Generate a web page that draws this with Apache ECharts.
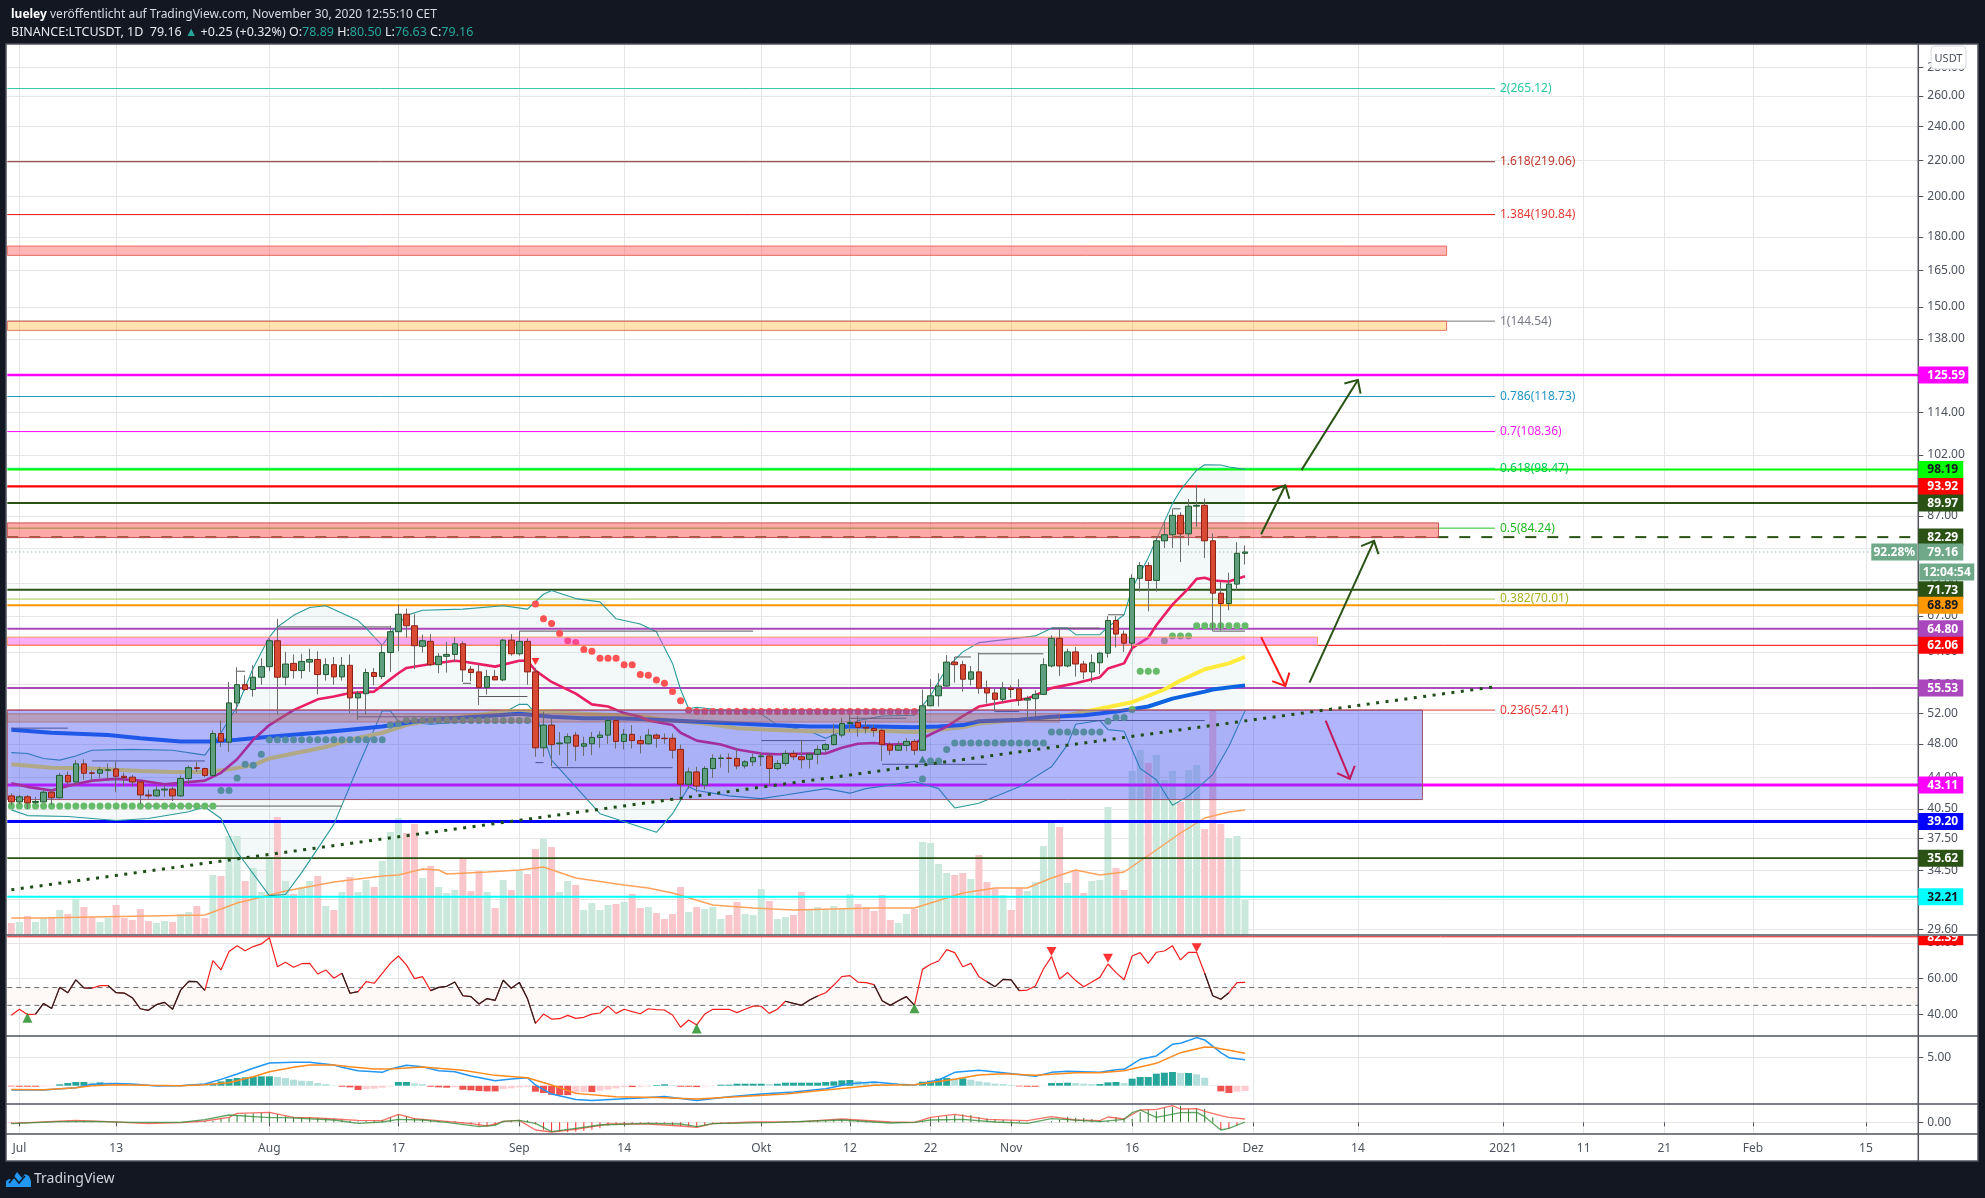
<!DOCTYPE html>
<html><head><meta charset="utf-8"><title>LTCUSDT</title>
<script src="https://cdn.jsdelivr.net/npm/echarts@6/dist/echarts.min.js"></script>
<style>html,body{margin:0;padding:0;background:#131722}#c{width:1985px;height:1198px}</style></head>
<body><div id="c"></div>
<script>
// ---------- DATA ----------
const startDay = '2020-06-30', dayCount = 237;
const tickLabels = {'2020-07-01':'Jul','2020-07-13':'13','2020-08-01':'Aug','2020-08-17':'17','2020-09-01':'Sep','2020-09-14':'14','2020-10-01':'Okt','2020-10-12':'12','2020-10-22':'22','2020-11-01':'Nov','2020-11-16':'16','2020-12-01':'Dez','2020-12-14':'14','2021-01-01':'2021','2021-01-11':'11','2021-01-21':'21','2021-02-01':'Feb','2021-02-15':'15'};
const priceTicks = [280,260,240,220,200,180,165,150,138,126,114,102,94,87,80,73,67,61,56,52,48,44,40.5,37.5,34.5,32,29.6];
// [open, close, low, high]
const ohlc = [
[41.9,41.25,40.9,42.2],[41.25,41.8,41.0,42.0],[41.8,41.15,40.5,42.0],[41.2,41.3,41.0,41.8],[41.25,42.3,41.2,42.6],[42.3,41.7,40.9,42.6],[41.7,44.2,41.6,44.5],[44.2,43.45,43.2,44.65],[43.45,45.55,43.2,46.0],[45.55,44.45,43.7,46.1],
[44.5,44.45,43.6,44.75],[44.45,44.85,43.9,45.15],[44.8,44.85,43.8,45.6],[44.95,44.1,42.3,45.8],[44.1,43.95,43.0,44.5],[44.0,43.45,42.9,44.25],[43.45,42.0,41.0,43.55],[42.0,41.9,41.6,42.6],[41.9,42.55,41.8,43.0],[42.55,42.65,41.8,43.0],
[42.65,41.9,41.35,42.95],[41.9,43.85,41.8,44.2],[43.85,45.1,43.2,45.35],[45.1,45.0,44.6,45.8],[45.0,44.2,44.0,45.1],[44.2,49.3,44.1,49.7],[49.3,48.3,47.6,51.0],[48.2,53.4,47.0,56.4],[53.4,56.0,52.0,58.6],[56.0,55.3,55.1,57.4],
[55.3,57.1,54.3,58.9],[57.1,58.7,56.0,60.0],[58.7,62.8,58.0,63.2],[62.8,57.1,51.8,66.5],[57.1,59.1,55.9,61.0],[59.2,58.1,56.9,60.6],[58.1,59.5,56.9,60.7],[59.4,59.8,57.9,61.5],[59.8,57.5,54.6,61.1],[57.5,59.0,56.6,60.0],
[59.0,57.15,56.0,60.2],[57.15,58.9,56.6,60.2],[58.9,54.1,52.0,60.6],[54.1,54.7,51.1,55.1],[54.7,57.8,51.8,58.4],[57.8,57.2,55.9,58.5],[57.2,60.9,56.8,62.2],[60.9,64.3,57.9,65.3],[64.3,67.3,61.1,69.0],[67.3,65.3,63.3,68.3],
[65.3,62.0,58.3,67.3],[61.9,62.8,60.9,63.8],[62.7,59.0,58.8,63.9],[59.0,60.3,57.7,60.8],[60.3,60.6,57.8,62.6],[60.6,62.3,59.5,63.4],[62.3,58.2,56.4,62.7],[58.3,57.8,56.5,58.8],[57.9,55.6,53.1,59.0],[55.6,57.2,54.6,58.2],
[57.2,56.7,56.7,58.2],[56.7,62.9,56.5,63.1],[62.9,60.7,60.4,63.9],[60.7,62.7,60.4,64.4],[62.7,57.9,56.0,63.2],[57.9,47.5,46.4,58.5],[47.5,50.4,46.4,52.2],[50.4,47.9,45.3,51.3],[48.0,48.1,46.6,49.5],[48.1,48.9,45.3,49.3],
[49.1,47.7,45.9,49.5],[47.7,48.0,46.5,48.9],[48.0,48.8,46.6,49.5],[48.8,49.1,47.5,49.6],[49.1,51.0,48.0,51.3],[51.0,48.3,47.4,51.3],[48.3,49.2,47.3,49.9],[49.2,48.4,47.4,50.4],[48.4,48.0,46.8,49.0],[48.0,49.1,47.9,49.9],
[49.1,48.7,47.5,49.3],[48.7,48.65,48.0,49.3],[48.7,47.2,46.2,49.3],[47.3,43.2,41.9,47.9],[43.2,44.6,42.7,45.1],[44.6,43.0,42.3,45.2],[43.1,45.0,42.6,45.3],[45.0,46.2,43.9,46.7],[46.2,46.25,45.1,46.7],[46.25,46.2,44.5,46.8],
[46.2,45.3,44.9,47.4],[45.3,45.8,45.0,46.0],[45.8,46.3,45.3,46.8],[46.4,46.5,45.3,46.9],[46.5,45.0,43.1,46.8],[45.0,45.6,44.8,46.0],[45.6,46.8,45.3,47.2],[46.8,46.4,46.0,47.2],[46.4,46.05,45.0,48.5],[46.1,46.7,45.0,46.95],
[46.7,47.3,45.5,47.8],[47.3,47.9,46.9,48.1],[47.9,49.1,47.8,50.6],[49.1,50.6,48.8,51.4],[50.6,50.75,49.5,51.7],[50.75,50.1,48.9,51.6],[50.1,50.0,49.3,51.0],[49.95,49.7,48.9,50.5],[49.7,47.9,45.9,50.0],[47.9,47.2,46.6,48.2],
[47.2,47.8,47.1,48.3],[47.8,48.3,47.1,48.7],[48.3,47.2,46.6,48.6],[47.2,53.0,47.1,55.3],[53.0,54.4,53.0,56.8],[54.4,55.8,52.9,57.7],[55.8,59.4,55.7,60.5],[59.4,59.0,56.3,60.2],[59.0,56.8,55.0,59.6],[56.8,57.9,55.9,58.8],
[57.9,55.5,54.7,60.9],[55.5,54.8,53.3,56.6],[54.8,53.9,52.2,55.5],[53.9,55.5,53.5,56.4],[55.5,55.3,54.1,55.9],[55.4,53.8,53.0,56.8],[53.8,54.0,51.0,54.4],[54.0,54.6,51.5,55.2],[54.6,59.0,54.5,60.0],[58.8,63.2,58.6,63.7],
[63.2,58.8,57.3,64.8],[58.8,61.0,58.6,61.5],[61.0,59.1,57.2,61.8],[59.1,57.9,56.8,59.6],[57.9,59.3,56.3,60.6],[59.3,60.8,57.6,61.0],[60.8,66.2,60.1,67.0],[66.2,63.9,61.7,67.0],[63.9,62.4,61.0,64.5],[62.4,73.9,61.0,74.7],
[73.9,76.4,71.4,77.1],[76.4,73.5,67.8,77.1],[73.5,81.5,71.4,82.4],[81.5,82.8,80.0,85.7],[82.8,87.1,80.0,88.5],[87.1,83.0,77.1,87.8],[83.0,89.2,80.5,90.9],[89.2,89.4,84.5,94.3],[89.4,81.5,77.9,91.0],[81.5,71.1,64.4,83.1],
[71.1,69.2,64.5,73.2],[69.2,72.8,68.0,75.0],[72.8,78.89,71.6,81.2],[78.89,79.16,76.63,80.5]];
const volume = [
12,13,19,13,17,17,25,21,36,28,18,13,17,30,17,15,26,14,12,14,
13,21,23,29,17,60,59,99,99,54,67,43,78,118,54,41,48,54,59,29,
25,43,58,43,55,48,74,103,117,102,111,57,69,48,42,45,77,44,64,43,
27,55,45,64,61,86,96,88,43,54,50,25,32,25,30,31,33,41,27,28,
22,16,21,48,23,28,26,28,16,20,33,21,20,46,34,16,18,20,43,26,
28,26,29,27,41,31,28,24,40,15,12,21,26,93,92,71,62,60,62,56,
80,53,46,40,25,47,44,53,89,113,108,52,65,42,54,55,128,67,45,164,
185,172,180,155,164,133,165,170,106,224,111,97,99,35];
const volumeAvg = [[0,17],[4,17],[10,18],[24,20],[28,32],[32,40],[34,44],[40,53],[46,59],[48,60],[51,66],[53,65],[54,61],[59,63],[63,65],[66,68],[70,57],[76,50],[79,47],[82,42],[87,30],[92,27],[97,25],[107,27],[112,27],[118,42],[122,47],[126,47],[129,57],[132,65],[135,60],[138,63],[142,85],[145,102],[148,117],[151,123],[153,125]];
const emaFast = [[0,43.3],[2,42.9],[5,42.5],[7,43],[10,43.6],[13,43.8],[16,43.6],[19,43.2],[24,43.6],[26,44.5],[28,46.1],[30,48.5],[32,50.4],[35,52.4],[38,53.9],[40,54.3],[42,54.8],[45,55],[46,55.9],[48,57.7],[49,58.5],[52,59.1],[55,59.6],[56,59.5],[60,58.7],[63,59.6],[64,59.6],[65,58.1],[67,56.4],[70,54.7],[72,53.2],[74,52.9],[76,52],[78,51.5],[79,51],[82,50.4],[83,49.4],[85,48.4],[88,47.9],[90,47.3],[93,46.8],[95,46.7],[99,46.8],[101,46.8],[103,47.5],[105,48],[107,48.1],[109,47.9],[112,48],[113,48.7],[116,50.2],[118,51.6],[120,52.9],[124,53.7],[126,54],[127,54.5],[129,55.5],[132,56.2],[135,57.1],[136,58.4],[138,59.2],[139,61.6],[141,63.3],[142,65.4],[144,69],[146,72],[147,73.8],[148,74],[149,73.5],[151,73.3],[153,74.3]];
const emaMid = [[0,45.5],[5,45.1],[10,45],[16,44.7],[20,44.6],[24,44.6],[27,44.9],[30,45.4],[32,46.2],[35,46.8],[39,47.6],[42,48.5],[46,49.4],[49,50.4],[52,51],[56,51.5],[61,52.2],[65,52.3],[67,52.2],[71,51.9],[75,51.7],[78,51.5],[82,51],[86,50.6],[90,50],[94,49.8],[99,49.6],[103,49.6],[107,49.7],[112,49.5],[115,49.8],[118,50.1],[120,50.6],[125,51.1],[130,51.5],[135,52.6],[139,53.5],[143,55.3],[145,56.6],[148,58.3],[151,59.2],[153,60.2]];
const emaSlow = [[0,49.8],[5,49.4],[12,49.1],[16,48.7],[21,48.3],[25,48.3],[28,48.5],[32,48.9],[39,49.5],[42,49.8],[46,50.2],[51,51],[55,51.3],[59,51.6],[63,51.9],[67,51.5],[71,51.3],[75,51.3],[78,51.2],[82,51],[86,50.8],[90,50.6],[94,50.4],[99,50.2],[103,50.2],[107,50.2],[112,50.1],[115,50.2],[118,50.4],[120,50.9],[125,51.1],[129,51.5],[133,51.7],[137,52.2],[141,52.9],[144,54],[148,55],[149,55.3],[153,55.9]];
const bollUpper = [[0,46.9],[2,46.8],[4,46.2],[6,46],[8,46.5],[10,47.2],[15,47.3],[20,47.2],[24,46.6],[26,49.4],[28,52.9],[30,58.5],[32,63.4],[33,65.1],[35,67.1],[37,68.5],[39,68.8],[43,66.2],[44,64.9],[46,62],[47,64],[49,67.1],[51,68],[56,68.2],[61,68.8],[64,68.2],[66,70.9],[67,71.6],[70,70.1],[73,69.5],[75,66.5],[78,65.6],[80,64.3],[82,59.2],[83,55.3],[84,52.6],[85,52.8],[88,52.4],[90,52.4],[93,51.9],[95,50.4],[99,49.6],[101,48.7],[103,49.6],[105,51],[108,51.6],[112,51.7],[114,54.4],[116,58.5],[118,61],[120,62.5],[124,63.1],[127,63.6],[129,64.9],[131,64.9],[132,63.8],[135,63.8],[136,65.1],[138,67.2],[139,72],[141,78],[144,89.8],[145,93],[147,98],[148,99.4],[150,99.3],[151,98.8],[153,98.2]];
const bollLower = [[0,40.4],[2,39.8],[7,39.7],[13,39.3],[17,39.5],[22,40.2],[24,40.7],[26,39.5],[28,36.2],[32,32.3],[34,32.4],[36,34.3],[40,38.9],[43,45.2],[46,52.3],[47,52.3],[48,50.9],[52,50.5],[57,50.9],[61,52],[63,53.2],[64,53.2],[65,52],[67,46],[73,40],[80,38.1],[82,40],[84,42.9],[85,42.5],[89,41.9],[93,41.6],[96,42],[101,42.7],[104,42.2],[106,42.7],[112,43.5],[115,42.7],[116,41.6],[117,40.6],[120,41.1],[125,42.9],[129,45.2],[131,47.9],[132,50.5],[135,51],[136,49.8],[138,49.6],[140,45],[142,43.7],[144,40.9],[146,41.9],[149,44.3],[151,47.7],[153,52.3]];
// stop-and-reverse dots: [day index, price]
const sarGreen = [[0,40.8],[1,40.8],[2,40.8],[3,40.8],[4,40.8],[5,40.8],[6,40.8],[7,40.8],[8,40.8],[9,40.8],[10,40.8],[11,40.8],[12,40.8],[13,40.8],[14,40.8],[15,40.8],[16,40.8],[17,40.8],[18,40.8],[19,40.8],[20,40.8],[21,40.8],[22,40.8],[23,40.8],[24,40.8],[25,40.8],[26,42.5],[27,42.5],[28,43.9],[29,45.5],[30,45.4],[31,46.7],[32,48.5],[33,48.5],[34,48.5],[35,48.5],[36,48.5],[37,48.5],[38,48.5],[39,48.5],[40,48.5],[41,48.5],[42,48.5],[43,48.5],[44,48.5],[45,48.5],[46,48.5],[47,50.4],[48,50.6],[49,51],[50,51],[51,51],[52,51],[53,51],[54,51],[55,51],[56,51],[57,51],[58,51],[59,51],[60,51],[61,51],[62,51],[63,51],[64,51],[113,43.8],[114,45.9],[115,45.9],[116,47.3],[117,48.1],[118,48.1],[119,48.1],[120,48.1],[121,48.1],[122,48.1],[123,48.1],[124,48.1],[125,48.1],[126,48.1],[127,48.1],[128,48.1],[129,49.5],[130,49.5],[131,49.5],[132,49.5],[133,49.5],[134,49.5],[135,49.5],[136,50.9],[137,51.4],[138,51.4],[139,52.5],[140,58],[141,58],[142,58],[143,62.8],[144,63.6],[145,63.6],[146,63.6],[147,65.3],[148,65.3],[149,65.3],[150,65.3],[151,65.3],[152,65.3],[153,65.3]];
const sarRed = [[65,69.1],[66,66.5],[67,65.7],[68,64],[69,62.8],[70,62.5],[71,61.4],[72,61.1],[73,60],[74,60],[75,60],[76,59],[77,59],[78,57.5],[79,57.4],[80,56.7],[81,56.2],[82,55],[83,53.7],[84,52.4],[85,52.2],[86,52.2],[87,52.2],[88,52.2],[89,52.2],[90,52.2],[91,52.2],[92,52.2],[93,52.2],[94,52.2],[95,52.2],[96,52.2],[97,52.2],[98,52.2],[99,52.2],[100,52.2],[101,52.2],[102,52.2],[103,52.2],[104,52.2],[105,52.2],[106,52.2],[107,52.2],[108,52.2],[109,52.2],[110,52.2],[111,52.2],[112,52.2],[113,52.2]];
const priceSignalDown = [[65,59.5]];
const priceSignalUp = [[113,46.1]];
// stepped support / resistance: [from day, to day, price]
const stepLevels = [[0,7,50],[10,24,45.9],[16,41,40.8],[28,29,58],[33,47,65.1],[43,55,51.5],[56,57,56.2],[58,64,54.3],[63,92,64.4],[65,66,45.7],[67,82,45.1],[93,101,48.4],[104,111,51.3],[108,121,45.5],[117,119,60.2],[120,128,60.7],[122,125,52.2],[126,148,51],[129,135,64.9],[136,138,67.2],[144,145,88.6],[149,153,64.4]];
// horizontal levels
const fibValues = [265.12,219.06,190.84,144.54,118.73,108.36,98.47,84.24,70.01,52.41];
const fibRatios = ['2','1.618','1.384','1','0.786','0.7','0.618','0.5','0.382','0.236'];
const fibEndDay = 184, fibLabelDay = 184;
const priceLevels = [125.59,98.19,93.92,89.97,82.29,71.73,68.89,64.80,62.06,55.53,43.11,39.20,35.62,32.21];
// zones: [top, bottom, end day]
const zoneTops = [175.8,144.5,85.4,63.4,52.41,51.9];
const zoneBottoms = [171.6,141.1,82.2,62.06,41.5,50.8];
const zoneEnds = [178,178,177,162,175,130];
// arrows: [from day, from price, to day, to price]
const arrowsUp = [[161,56.3,169,81.5],[155,82.9,158,94.2],[160,98,167,124]];
const arrowsDown = [[155,63.4,158,55.8]];
const arrowsDown2 = [[163,51,166,43.8]];
const trendLine = [[0,32.8],[184,55.7]];
const lastPrice = 79.16, lastPct = '92.28%', countdown = '12:04:54';
// RSI
const rsi = [39.4,42.8,39.8,40.1,46.1,43.3,55.1,52.1,59.3,54.8,54.6,56.1,56.1,52.1,51.9,49.3,43.1,42.2,45.4,46.7,42.8,53.6,58.5,58.3,53.4,70.1,64.9,75.2,78.5,75.7,78,79.5,83,66.7,69.2,66.4,68.4,68.6,62.6,64.9,60.2,63,51.8,52.7,58.3,57.4,63,68.6,72.7,67.7,60,61.1,53.3,55.1,55.7,58.1,50.4,49.9,45.8,48.8,47.8,59.1,54.6,57.9,48.9,34.9,40.1,37.3,37.5,39.4,37.7,38.3,40.1,40.7,44.6,40.5,42.8,41.5,40.3,43.1,42.6,42.4,39.6,32.7,36.8,34,40.1,42.8,42.8,42.8,40.9,42.8,44.6,44.5,40.5,42.8,47.3,46.1,45,48,50.3,52.1,56.4,61.1,61.7,58.1,57.8,56.6,47.6,45,47.6,49.9,45,65.2,68.1,69.9,76.3,74.6,66.7,68.6,61.1,58.3,55.5,59.6,59.3,53.3,53.6,55.9,65.4,72.4,59.8,63.4,58.9,55.5,58.1,60.7,68.2,63.4,59.4,72.7,74.6,68.6,74.8,75.5,78.4,70.5,74.8,74.8,63,50.4,48.4,52.1,57.8,57.9];
const rsiDarkRanges = [[3,6],[7,10],[12,16],[17,20],[21,22],[23,24],[41,43],[52,54],[55,65],[96,100],[107,109],[110,112],[121,125],[148,151]];
const rsiTicks = [80,60,40], rsiBand = [55,45], rsiLevel = 83.5, rsiLevelLabel = '82.39';
const rsiSignalUp = [[2,38],[85,32],[112,43.4]];
const rsiSignalDown = [[129,75.2],[136,71.5],[147,77.4]];
// MACD
const macdLine = [[0,-0.76],[4,-0.76],[8,-0.35],[10,0.24],[13,0.41],[15,0.29],[18,-0.06],[21,0],[24,0.29],[26,1.12],[28,2.06],[30,3.06],[32,4],[35,4.12],[37,4.12],[40,3.65],[41,3.24],[43,2.65],[46,2.35],[47,2.94],[49,3.59],[51,3.35],[53,2.65],[55,2.47],[57,1.71],[60,0.88],[62,1.18],[64,1.41],[65,0.12],[67,-1.47],[70,-2.41],[72,-2.59],[76,-2.29],[78,-2.18],[81,-1.88],[83,-2.24],[85,-2.59],[89,-1.94],[93,-1.47],[97,-1.12],[101,-0.53],[104,0.35],[107,0.65],[110,0.24],[112,0.12],[115,1],[117,2.35],[120,2.71],[123,2.29],[127,1.65],[129,2.35],[131,2.53],[135,2.35],[137,2.82],[138,2.88],[140,4.65],[142,5.24],[144,7.29],[145,7.47],[147,8.47],[148,8.06],[150,5.82],[151,4.94],[153,4.59]];
const macdSignal = [[0,-0.65],[4,-0.71],[8,-0.35],[10,0],[13,0.18],[17,0.06],[21,0],[24,0.18],[27,0.53],[30,1.59],[32,2.47],[35,3.24],[37,3.65],[40,3.65],[42,3.35],[45,2.94],[47,2.94],[51,3.29],[56,2.71],[60,1.82],[64,1.41],[67,0.12],[70,-1.35],[75,-1.94],[80,-2.06],[85,-2.35],[90,-1.94],[96,-1.47],[101,-0.76],[104,-0.35],[107,0.06],[112,0.18],[117,1.12],[120,1.88],[123,2.12],[127,1.82],[132,2.29],[135,2.29],[138,2.65],[142,3.94],[145,5.82],[148,6.82],[149,6.76],[153,5.71]];
const macdHist = [
-.12,-.18,-.18,-.18,-.12,-.06,.24,.47,.65,.65,
.53,.59,.53,.29,.18,.12,.06,.06,.06,.06,
.06,.12,.18,.29,.24,.41,.76,1.18,1.35,1.47,
1.59,1.65,1.65,1.53,1.35,1.06,.88,.82,.47,.29,
.06,-.18,-.29,-.76,-.59,-.53,-.35,-.12,.65,.65,
.41,.29,-.18,-.29,-.35,-.29,-.71,-.82,-.94,-1,
-1,-.59,-.47,-.29,-.24,-1.06,-1.29,-1.59,-1.65,-1.65,
-1.29,-1.12,-1.12,-.88,-.71,-.47,-.24,-.24,-.18,-.12,
.12,.24,.12,-.18,-.18,-.24,-.12,-.06,.18,.18,
.35,.35,.35,.35,.29,.35,.53,.53,.53,.53,
.53,.65,.76,.94,1,.82,.65,.47,.29,.18,
.06,.12,.06,.71,.88,1.24,1.35,1.29,1.29,1.06,
.76,.59,.35,.29,.12,-.12,-.18,-.18,-.06,.47,
.47,.53,.47,.35,.29,.29,.59,.65,.47,1.24,
1.53,1.53,2.12,2.29,2.41,2.24,2.24,2,1.41,.06,
-1,-1.29,-1.06,-.94];
const macdTicks = [5];
// lower oscillator
const oscUpper = [[0,-3],[8,6],[12,2],[17,-4],[21,-1],[24,4],[27,15],[28,27],[32,30],[35,15],[37,14],[40,10],[43,6],[46,5],[48,24],[50,11],[54,3],[57,-4],[59,-11],[60,-5],[61,3],[63,6],[65,-23],[67,-29],[70,-21],[74,-5],[79,-5],[83,-11],[85,-15],[87,-4],[92,1],[98,2],[103,10],[109,1],[112,0],[114,15],[117,24],[121,9],[126,5],[129,17],[132,7],[135,5],[136,16],[138,10],[140,37],[142,39],[144,50],[145,40],[147,41],[148,33],[150,20],[151,15],[153,10]];
const oscLower = [[0,-4],[6,2],[10,3],[15,0],[21,0],[24,8],[27,22],[32,14],[34,14],[40,7],[43,-3],[46,1],[48,9],[51,7],[54,0],[58,-13],[60,-9],[61,3],[63,6],[65,-3],[67,-28],[70,-18],[73,-8],[79,-3],[83,-5],[85,-13],[87,-4],[95,0],[103,7],[109,-2],[112,0],[114,7],[118,9],[122,1],[126,-3],[129,11],[135,2],[138,9],[139,29],[140,37],[142,15],[145,29],[147,30],[148,17],[150,-23],[151,-18],[153,1]];
const oscBars = [
-2,-2,-2,-1,0,1,2,3,3,3,3,2,2,1,1,0,-1,-2,-2,-1,
-1,0,1,3,4,5,12,14,22,26,27,28,30,24,18,17,16,15,14,13,
11,9,5,3,4,5,8,14,24,20,12,10,6,4,3,3,-3,-6,-10,-10,
-9,1,4,5,6,-6,-22,-26,-28,-30,-28,-25,-22,-18,-10,-8,-6,-4,-5,-3,
-2,-3,-8,-11,-12,-14,-10,-3,-2,-2,-1,0,0,1,0,1,2,2,3,4,
6,7,8,9,9,7,5,3,1,-1,-2,-2,0,5,12,15,20,22,24,22,
16,12,9,8,6,4,2,1,0,3,8,17,14,13,10,6,5,15,12,10,
30,37,33,43,46,50,40,42,41,15,-23,-20,-10,0];
const oscTicks = [0];

// ---------- STYLES ----------
const FONT = '"Noto Sans", "Open Sans", sans-serif';
const BG = '#131722', GRID = '#e6e6e6', TXT = '#4c525e', SEP = '#50535e';
const L = 7.3, R = 1918.3;
const fibColors = ['#2bcb9f','#8b2020','#e81010','#787878','#2196c4','#ff00ff','#00e676','#22c322','#a5c94a','#e53935'];
const fibLabelColors = ['#26c6a0','#c0392b','#e53935','#787b86','#2196c4','#f020f0','#00c853','#22b822','#a8b020','#e53935'];
const levelColors = ['#ff00ff','#00ff00','#ff0000','#2a5214','#2a5214','#2a5214','#ff9800','#ab47bc','#ff0000','#ab47bc','#ff00ff','#0000ff','#2a5214','#00ffff'];
const levelWidths = [2.5,2,2.2,2,2,2,2.2,2,1,2,3,3,1.6,2];
const levelText = ['#fff','#131722','#fff','#fff','#fff','#fff','#131722','#fff','#fff','#fff','#fff','#fff','#fff','#131722'];
const zoneFills = ['rgba(255,82,82,.42)','rgba(255,165,0,.3)','rgba(255,82,82,.5)','rgba(245,60,230,.42)','rgba(60,70,245,.4)','rgba(190,110,70,.33)'];
const zoneStrokes = ['#ee6a60','#ee7060','#c85050','#ffa060','#a05068','rgba(170,90,90,.6)'];

// ---------- HELPERS ----------
const cats = [];
(function(){const t0 = Date.parse(startDay+'T00:00:00Z'); for(let k=0;k<dayCount;k++) cats.push(new Date(t0+k*864e5).toISOString().slice(0,10));})();
const isTick = (i,v)=> Object.prototype.hasOwnProperty.call(tickLabels, v);
const lineS = (name,data,color,width,z,extra)=>Object.assign({type:'line',name,data,xAxisIndex:0,yAxisIndex:0,showSymbol:false,symbol:'none',z,silent:true,lineStyle:{color,width},itemStyle:{color},connectNulls:false,animation:false},extra||{});
const custom = (name,xi,yi,yv,z,draw)=>({type:'custom',name,xAxisIndex:xi,yAxisIndex:yi,z,silent:true,clip:false,data:[[0,yv]],encode:{x:0,y:1},animation:false,
  renderItem:(p,api)=>({type:'group',children:draw(p.coordSys,api)})});
const tag = (x,y,w,h,fill,text,color,bold,align)=>[
  {type:'rect',shape:{x,y:y-h/2,width:w,height:h},style:{fill}},
  {type:'text',style:{x:align==='center'?x+w/2:x+9,y:y+.5,text,fill:color,align:align||'left',verticalAlign:'middle',font:(bold?'bold ':'')+'12px '+FONT}}];
const arrow = (list,color)=>(c,api)=>{const out=[];list.forEach(a=>{const p=api.coord([a[0],a[1]]),q=api.coord([a[2],a[3]]);
  const ang=Math.atan2(p[1]-q[1],p[0]-q[0]),len=14,d=43*Math.PI/180;
  out.push({type:'line',shape:{x1:p[0],y1:p[1],x2:q[0],y2:q[1]},style:{stroke:color,lineWidth:2}});
  out.push({type:'polyline',shape:{points:[[q[0]+len*Math.cos(ang+d),q[1]+len*Math.sin(ang+d)],q,[q[0]+len*Math.cos(ang-d),q[1]+len*Math.sin(ang-d)]]},style:{stroke:color,fill:null,lineWidth:2}});});return out;};

const series = [];
// Bollinger fill
series.push(custom('bollFill',0,0,100,1,(c,api)=>[{type:'polygon',shape:{points:bollUpper.map(a=>api.coord(a)).concat(bollLower.slice().reverse().map(a=>api.coord(a)))},style:{fill:'rgba(30,120,120,.055)'}}]));
// volume
series.push({type:'bar',name:'Volume',xAxisIndex:0,yAxisIndex:1,z:2,barWidth:7,silent:true,animation:false,
  data:volume.map((v,i)=>({value:v,itemStyle:{color:ohlc[i][1]>=ohlc[i][0]?'#cbe8dc':'#f9c7cb'}}))});
series.push(lineS('VolumeAvg',volumeAvg,'#ffa35c',1.4,3,{yAxisIndex:1}));
// fib & price level lines
series.push(custom('levels',0,0,100,5,(c,api)=>{const o=[],x0=c.x,x1=c.x+c.width;
  fibValues.forEach((v,k)=>{const y=api.coord([0,v])[1],xe=api.coord([fibEndDay,v])[0];o.push({type:'line',shape:{x1:x0,y1:y,x2:xe,y2:y},style:{stroke:fibColors[k],lineWidth:1}});});
  priceLevels.forEach((v,k)=>{const y=api.coord([0,v])[1];o.push({type:'line',shape:{x1:x0,y1:y,x2:x1+5,y2:y},style:{stroke:levelColors[k],lineWidth:levelWidths[k],lineDash:v===82.29?[11,11]:null}});});
  const yl=api.coord([0,lastPrice])[1];o.push({type:'line',shape:{x1:x0,y1:yl,x2:x1+5,y2:yl},style:{stroke:'#6fa98a',lineWidth:1,lineDash:[1,3]}});
  return o;}));
// MAs + bollinger
series.push(lineS('bollU',bollUpper,'#2a9a9a',1.1,6));
series.push(lineS('bollL',bollLower,'#2a9a9a',1.1,6));
series.push(lineS('emaMid',emaMid,'#ffeb3b',4,6));
series.push(lineS('emaSlow',emaSlow,'#0d63e0',4,6));
series.push(lineS('emaFast',emaFast,'#e91e63',2.6,6));
// dots
const dots=(name,data,color)=>({type:'scatter',name,data,xAxisIndex:0,yAxisIndex:0,z:7,symbolSize:7,silent:true,animation:false,itemStyle:{color,opacity:1}});
series.push(dots('sarGreen',sarGreen,'#66bb6a'));
series.push(dots('sarRed',sarRed,'#ff5252'));
series.push({type:'scatter',name:'sigDown',data:priceSignalDown,xAxisIndex:0,yAxisIndex:0,z:7,symbol:'triangle',symbolRotate:180,symbolSize:[8,7],silent:true,animation:false,itemStyle:{color:'#ff0000'}});
series.push({type:'scatter',name:'sigUp',data:priceSignalUp,xAxisIndex:0,yAxisIndex:0,z:7,symbol:'triangle',symbolSize:[8,7],silent:true,animation:false,itemStyle:{color:'#1e8a1e'}});
// step levels
series.push(custom('steps',0,0,100,7,(c,api)=>stepLevels.map(s=>{const a=api.coord([s[0],s[2]]),b=api.coord([s[1],s[2]]);return {type:'line',shape:{x1:a[0],y1:a[1],x2:b[0],y2:b[1]},style:{stroke:'#5a5a5a',lineWidth:1}};})));
// zones
series.push(custom('zones',0,0,100,8,(c,api)=>zoneTops.map((t,k)=>{const a=api.coord([0,t])[1],b=api.coord([0,zoneBottoms[k]])[1],xe=api.coord([zoneEnds[k],t])[0];return {type:'rect',shape:{x:c.x,y:a,width:xe-c.x,height:b-a},style:{fill:zoneFills[k],stroke:zoneStrokes[k],lineWidth:1}};})));
// trendline
series.push(lineS('trend',trendLine,'#1f4d1a',3,9,{lineStyle:{color:'#1f4d1a',width:3,type:[3,6.5]}}));
// candles
series.push({type:'candlestick',name:'wicks',xAxisIndex:0,yAxisIndex:0,z:10,barWidth:1,silent:true,animation:false,data:ohlc,itemStyle:{color:'#6b6b6b',color0:'#6b6b6b',borderColor:'#6b6b6b',borderColor0:'#6b6b6b',borderWidth:1}});
series.push({type:'candlestick',name:'LTCUSDT',xAxisIndex:0,yAxisIndex:0,z:11,barWidth:6,silent:true,animation:false,data:ohlc.map(a=>[a[0],a[1],Math.min(a[0],a[1]),Math.max(a[0],a[1])]),itemStyle:{color:'#5f9f80',color0:'#d84a34',borderColor:'#1e5c2e',borderColor0:'#8e2116',borderWidth:1}});
// arrows
series.push(custom('arrowsUp',0,0,100,12,arrow(arrowsUp,'#2a5214')));
series.push(custom('arrowsDown',0,0,100,12,arrow(arrowsDown,'#ff1a1a')));
series.push(custom('arrowsDown2',0,0,100,12,arrow(arrowsDown2,'#c2185b')));
// fib labels + tags
series.push(custom('labels',0,0,100,30,(c,api)=>{const o=[],tx=c.x+c.width;
  fibValues.forEach((v,k)=>{const p=api.coord([fibLabelDay,v]);o.push({type:'text',style:{x:p[0]+5,y:p[1],text:fibRatios[k]+'('+v.toFixed(2)+')',fill:fibLabelColors[k],align:'left',verticalAlign:'middle',font:'12px '+FONT}});});
  priceLevels.forEach((v,k)=>{const y=api.coord([0,v])[1];o.push(...tag(tx,y,v>100?50:45,17,levelColors[k],v.toFixed(2),levelText[k],true));});
  const y=api.coord([0,lastPrice])[1];
  o.push(...tag(tx,y,45,17,'#6fa98a',lastPrice.toFixed(2),'#fff',true));
  o.push(...tag(tx-47,y,46,17,'#6fa98a',lastPct,'#fff',true,'center'));
  o.push(...tag(tx+1,y+20,55,17,'#6fa98a',countdown,'#fff',true,'center'));
  return o;}));
// RSI
const rsiPts = rsi.map((v,i)=>[i,v]);
const rsiDark = rsi.map((v,i)=>rsiDarkRanges.some(r=>i>=r[0]&&i<=r[1])?v:null);
series.push(custom('rsiBand',1,2,50,3,(c,api)=>{const a=api.coord([0,rsiBand[0]])[1],b=api.coord([0,rsiBand[1]])[1],x0=c.x,x1=c.x+c.width;return [
  {type:'rect',shape:{x:x0,y:a,width:c.width,height:b-a},style:{fill:'#fef8f6'}},
  {type:'line',shape:{x1:x0,y1:a,x2:x1,y2:a},style:{stroke:'#6a6a6a',lineWidth:1,lineDash:[5,4]}},
  {type:'line',shape:{x1:x0,y1:b,x2:x1,y2:b},style:{stroke:'#6a6a6a',lineWidth:1,lineDash:[5,4]}}];}));
series.push(lineS('RSI',rsiPts,'#f21f1f',1.2,5,{xAxisIndex:1,yAxisIndex:2}));
series.push(lineS('RSIdark',rsiDark,'#222222',1.2,6,{xAxisIndex:1,yAxisIndex:2}));
series.push({type:'scatter',name:'rsiUp',data:rsiSignalUp,xAxisIndex:1,yAxisIndex:2,z:7,symbol:'triangle',symbolSize:[10,10],silent:true,animation:false,itemStyle:{color:'#1e8a1e'}});
series.push({type:'scatter',name:'rsiDown',data:rsiSignalDown,xAxisIndex:1,yAxisIndex:2,z:7,symbol:'triangle',symbolRotate:180,symbolSize:[10,9],silent:true,animation:false,itemStyle:{color:'#ff0000'}});
series.push(custom('rsiLevel',1,2,50,30,(c,api)=>{const y=api.coord([0,rsiLevel])[1],x0=c.x,x1=c.x+c.width;return [
  {type:'line',shape:{x1:x0,y1:y,x2:x1,y2:y},style:{stroke:'#e01010',lineWidth:1}},
  {type:'group',clipPath:{type:'rect',shape:{x:x1-1,y:c.y+1,width:70,height:12}},children:tag(x1,y,45,17,'#ff0000',rsiLevelLabel,'#fff',true)}];}));
// MACD
series.push({type:'bar',name:'MACDhist',xAxisIndex:2,yAxisIndex:3,z:3,barWidth:7,silent:true,animation:false,
  data:macdHist.map((v,i)=>{const prev=i?macdHist[i-1]:0;return {value:v,itemStyle:{color:v>=0?(v>=prev?'#26a69a':'#b2dfdb'):(v<=prev?'#ef5350':'#ffcdd2')}};})});
series.push(lineS('MACD',macdLine,'#2196f3',1.5,4,{xAxisIndex:2,yAxisIndex:3}));
series.push(lineS('Signal',macdSignal,'#ff8a1f',1.5,5,{xAxisIndex:2,yAxisIndex:3}));
// oscillator
series.push({type:'bar',name:'oscBars',xAxisIndex:3,yAxisIndex:4,z:3,barWidth:1,silent:true,animation:false,
  data:oscBars.map(v=>({value:v,itemStyle:{color:v>=0?'#2e7d32':'#f23030'}}))});
series.push(lineS('oscUpper',oscUpper,'rgba(244,67,54,.75)',1.3,4,{xAxisIndex:3,yAxisIndex:4}));
series.push(lineS('oscLower',oscLower,'rgba(56,142,60,.8)',1.3,4,{xAxisIndex:3,yAxisIndex:4}));

const xAxisBase = i=>({type:'category',gridIndex:i,data:cats,boundaryGap:true,
  axisLine:{show:false},axisTick:{show:i===3,alignWithLabel:true,interval:isTick,length:4,lineStyle:{color:SEP}},
  axisLabel:{show:i===3,interval:isTick,formatter:v=>tickLabels[v]||'',color:TXT,fontFamily:FONT,fontSize:12,margin:9},
  splitLine:{show:true,alignWithLabel:true,interval:isTick,lineStyle:{color:GRID,width:1}}});
const yLabel = {color:TXT,fontFamily:FONT,fontSize:12,margin:9,formatter:v=>(+v).toFixed(2),inside:false};
const yBase = (grid,extra)=>Object.assign({gridIndex:grid,position:'right',scale:false,
  axisLine:{show:false},axisTick:{show:true,length:5,lineStyle:{color:SEP}},splitLine:{show:true,lineStyle:{color:GRID,width:1}}},extra);

const option = {
  animation:false,backgroundColor:BG,
  title:[
    {left:6,top:4,text:'{b|lueley} veröffentlicht auf TradingView.com, November 30, 2020 12:55:10 CET',textStyle:{color:'#d8dbe3',fontFamily:FONT,fontSize:12,fontWeight:'normal',rich:{b:{color:'#ffffff',fontFamily:FONT,fontSize:12,fontWeight:'bold'}}}},
    {left:6,top:21,text:'BINANCE:LTCUSDT, 1D  79.16 {t|▲} +0.25 (+0.32%) O:{t|78.89} H:{t|80.50} L:{t|76.63} C:{t|79.16}',textStyle:{color:'#e8eaf0',fontFamily:FONT,fontSize:12.5,fontWeight:'normal',rich:{t:{color:'#26a69a',fontFamily:FONT,fontSize:12.5}}}}
  ],
  graphic:{elements:[
    {type:'rect',z:-10,silent:true,shape:{x:6,y:44,width:1972,height:1117},style:{fill:'#ffffff'}},
    {type:'rect',z:40,silent:true,shape:{x:6,y:44,width:1972,height:1117},style:{fill:null,stroke:SEP,lineWidth:1.5}},
    ...[935,1036,1104,1134].map(y=>({type:'line',z:40,silent:true,shape:{x1:6,y1:y,x2:1978,y2:y},style:{stroke:SEP,lineWidth:1.5}})),
    {type:'line',z:25,silent:true,shape:{x1:R,y1:44,x2:R,y2:1161},style:{stroke:SEP,lineWidth:1.5}},
    {type:'rect',z:41,silent:true,shape:{x:1931,y:46,width:35,height:23,r:4},style:{fill:'#fff',stroke:'#d6d8de',lineWidth:1}},
    {type:'text',z:42,silent:true,style:{x:1948.5,y:59,text:'USDT',fill:TXT,align:'center',verticalAlign:'middle',font:'11px '+FONT}},
    {type:'polygon',z:41,silent:true,shape:{points:[[6,1187],[6,1181],[9,1179],[12,1180],[17,1172],[22,1178],[25,1174],[29,1176],[31,1181],[31,1187]]},style:{fill:'#2196f3'}},
    {type:'polyline',z:42,silent:true,shape:{points:[[9,1183],[14,1177],[19,1183],[25,1176]]},style:{stroke:'#131722',lineWidth:1.5,fill:null}},
    {type:'text',z:41,silent:true,style:{x:34,y:1179,text:'TradingView',fill:'#d1d4dc',align:'left',verticalAlign:'middle',font:'14px '+FONT}}
  ]},
  grid:[
    {left:L,width:R-L,top:44,height:891},
    {left:L,width:R-L,top:935,height:101},
    {left:L,width:R-L,top:1036,height:68},
    {left:L,width:R-L,top:1104,height:30}
  ],
  xAxis:[xAxisBase(0),xAxisBase(1),xAxisBase(2),xAxisBase(3)],
  yAxis:[
    yBase(0,{type:'log',logBase:10,min:29.15,max:297.8,axisTick:{show:true,length:5,lineStyle:{color:SEP},customValues:priceTicks},axisLabel:Object.assign({},yLabel,{customValues:priceTicks})}),
    {type:'value',gridIndex:0,min:0,max:891,show:false,splitLine:{show:false}},
    yBase(1,{type:'value',min:27.8,max:84.5,axisTick:{show:true,length:5,lineStyle:{color:SEP},customValues:rsiTicks},axisLabel:Object.assign({},yLabel,{customValues:rsiTicks})}),
    yBase(2,{type:'value',min:-3.22,max:8.75,axisTick:{show:true,length:5,lineStyle:{color:SEP},customValues:macdTicks},axisLabel:Object.assign({},yLabel,{customValues:macdTicks})}),
    yBase(3,{type:'value',min:-35,max:55,axisTick:{show:true,length:5,lineStyle:{color:SEP},customValues:oscTicks},axisLabel:Object.assign({},yLabel,{customValues:oscTicks})})
  ],
  series
};
const chart = echarts.init(document.getElementById('c'),null,{renderer:'canvas',width:1985,height:1198});
chart.setOption(option);
</script></body></html>
